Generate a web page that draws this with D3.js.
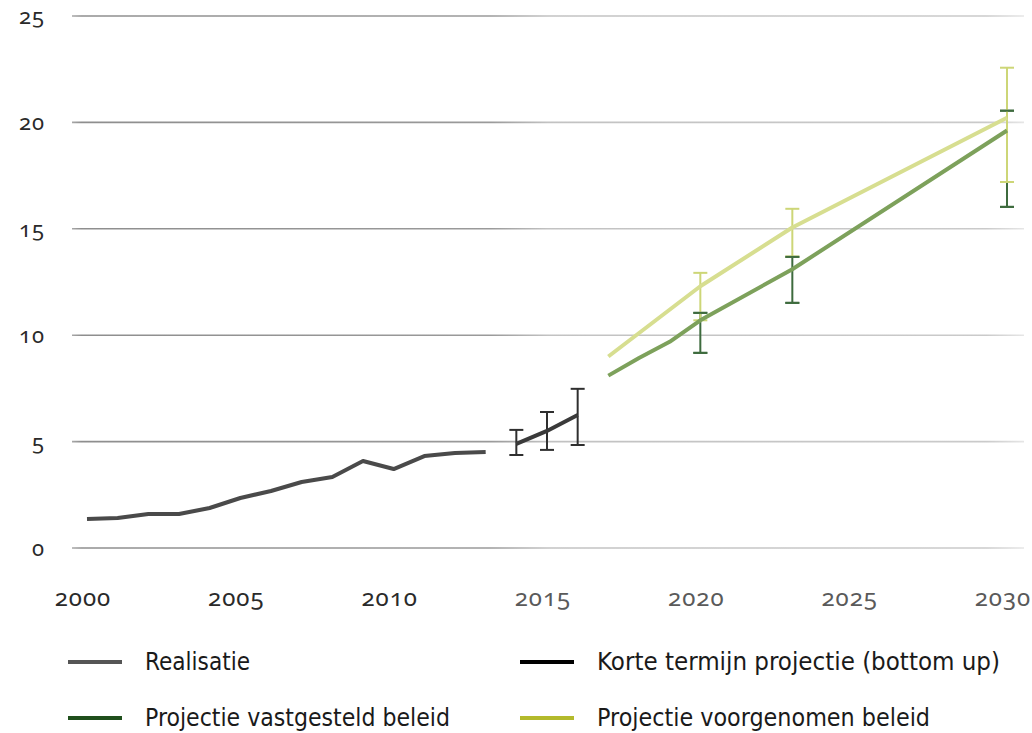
<!DOCTYPE html>
<html>
<head>
<meta charset="utf-8">
<script src="https://cdn.jsdelivr.net/npm/d3@7"></script>
<style>
  html, body { margin: 0; padding: 0; background: #fff; }
  svg { display: block; }
  .tick-y, .tick-x { font-family: "Noto Sans", "Open Sans", sans-serif; font-variant-numeric: oldstyle-nums; font-feature-settings: "onum" 1; }
  .legend text { font-family: "Liberation Sans Narrow", "DejaVu Sans Condensed", sans-serif; }
</style>
</head>
<body>
<svg id="chart" width="1032" height="733"></svg>
<script>
// ---- data ----
const yTicks = [0, 5, 10, 15, 20, 25];
const xTickYears = [2000, 2005, 2010, 2015, 2020, 2025, 2030];

const realisatieYears  = [2000, 2001, 2002, 2003, 2004, 2005, 2006, 2007, 2008, 2009, 2010, 2011, 2012, 2013];
const realisatieValues = [1.36, 1.41, 1.60, 1.60, 1.88, 2.35, 2.68, 3.10, 3.34, 4.09, 3.71, 4.32, 4.46, 4.51];

const korteYears  = [2014, 2015, 2016];
const korteValues = [4.89, 5.50, 6.25];
const korteLow    = [4.37, 4.61, 4.84];
const korteHigh   = [5.55, 6.39, 7.48];

const vastYears  = [2017, 2018, 2019, 2020, 2023, 2030];
const vastValues = [8.10, 8.93, 9.69, 10.70, 13.10, 19.62];
const vastErrYears = [2020, 2023, 2030];
const vastLow    = [9.17, 11.52, 16.03];
const vastHigh   = [11.05, 13.68, 20.55];

const voorYears  = [2017, 2020, 2023, 2030];
const voorValues = [9.00, 12.30, 15.06, 20.22];
const voorErrYears = [2020, 2023, 2030];
const voorLow    = [10.70, 13.70, 17.20];
const voorHigh   = [12.93, 15.94, 22.57];

const legendLabels = ["Realisatie", "Korte termijn projectie (bottom up)", "Projectie vastgesteld beleid", "Projectie voorgenomen beleid"];

// ---- drawing ----
const svg = d3.select("#chart");
const x = d3.scaleLinear().domain([2000, 2030]).range([87, 1007]);
const y = d3.scaleLinear().domain([0, 25]).range([548, 16]);

const defs = svg.append("defs");
const grad = defs.append("linearGradient").attr("id", "gridGrad")
  .attr("gradientUnits", "userSpaceOnUse").attr("x1", 72).attr("x2", 1024).attr("y1", 0).attr("y2", 0);
[[0, "#a8a8a8"], [0.01, "#8e8e8e"], [0.44, "#9a9a9a"], [0.5, "#c2c2c2"], [0.96, "#cacaca"], [1, "#e6e6e6"]]
  .forEach(([o, c]) => grad.append("stop").attr("offset", o).attr("stop-color", c));

// gridlines
svg.append("g").selectAll("line").data(yTicks).join("line")
  .attr("x1", 72).attr("x2", 1024)
  .attr("y1", d => y(d)).attr("y2", d => y(d))
  .attr("stroke", "url(#gridGrad)").attr("stroke-width", 1.6);

// y axis labels
svg.append("g").selectAll("text").data(yTicks).join("text")
  .attr("class", "tick-y")
  .attr("x", 45).attr("y", d => y(d) + 8)
  .attr("text-anchor", "end")
  .attr("font-size", 22).attr("letter-spacing", 1).attr("fill", "#2a2a2a")
  .text(d => d);

// x axis labels
svg.append("g").selectAll("text").data(xTickYears).join("text")
  .attr("class", "tick-x")
  .attr("x", d => x(d) - 4).attr("y", 606)
  .attr("text-anchor", "middle")
  .attr("font-size", 24).attr("letter-spacing", 1)
  .attr("fill", d => d <= 2010 ? "#2a2a2a" : "#5a5a5a")
  .text(d => d);

const line = d3.line().x(d => x(d[0])).y(d => y(d[1]));
function errBars(g, years, lo, hi, color, w) {
  const data = years.map((yr, i) => ({yr, lo: lo[i], hi: hi[i]}));
  g.selectAll(null).data(data).join("line")
    .attr("x1", d => x(d.yr)).attr("x2", d => x(d.yr))
    .attr("y1", d => y(d.hi)).attr("y2", d => y(d.lo))
    .attr("stroke", color).attr("stroke-width", w);
}
function errCaps(g, years, lo, hi, color, capW, w) {
  const data = [];
  years.forEach((yr, i) => { data.push({yr, v: lo[i]}); data.push({yr, v: hi[i]}); });
  g.selectAll(null).data(data).join("line")
    .attr("x1", d => x(d.yr) - capW / 2).attr("x2", d => x(d.yr) + capW / 2)
    .attr("y1", d => y(d.v)).attr("y2", d => y(d.v))
    .attr("stroke", color).attr("stroke-width", w);
}

// realisatie
svg.append("path").datum(realisatieYears.map((yr, i) => [yr, realisatieValues[i]]))
  .attr("d", line).attr("fill", "none").attr("stroke", "#4a4a4a").attr("stroke-width", 4)
  .attr("stroke-linejoin", "round");

// korte termijn
const kg = svg.append("g");
errBars(kg, korteYears, korteLow, korteHigh, "#2f2f2f", 2);
errCaps(kg, korteYears, korteLow, korteHigh, "#2f2f2f", 14, 2);
svg.append("path").datum(korteYears.map((yr, i) => [yr, korteValues[i]]))
  .attr("d", line).attr("fill", "none").attr("stroke", "#3a3a3a").attr("stroke-width", 4);

// projection error bars
const eg = svg.append("g");
errBars(eg, vastErrYears, vastLow, vastHigh, "#3e6b3e", 2);
errCaps(eg, vastErrYears, vastLow, vastHigh, "#3e6b3e", 14, 2);
errBars(eg, voorErrYears, voorLow, voorHigh, "#cdd677", 2);
errCaps(eg, voorErrYears, voorLow, voorHigh, "#cdd677", 14, 2);
errCaps(eg, vastErrYears, vastLow, vastHigh, "#3e6b3e", 14, 2);

// projection lines
svg.append("path").datum(vastYears.map((yr, i) => [yr, vastValues[i]]))
  .attr("d", line).attr("fill", "none").attr("stroke", "#7da15b").attr("stroke-width", 4)
  .attr("stroke-linejoin", "round");
svg.append("path").datum(voorYears.map((yr, i) => [yr, voorValues[i]]))
  .attr("d", line).attr("fill", "none").attr("stroke", "#d7de90").attr("stroke-width", 4)
  .attr("stroke-linejoin", "round");

// legend
const legendColors = ["#555555", "#000000", "#1f4f1c", "#b3ba2c"];
const legendPos = [[68, 662], [520, 662], [68, 718], [520, 718]];
const legendLen = [105, 403, 305, 333];
const lg = svg.append("g").attr("class", "legend");
legendLabels.forEach((lab, i) => {
  const [lx, ly] = legendPos[i];
  lg.append("line").attr("x1", lx).attr("x2", lx + 54).attr("y1", ly).attr("y2", ly)
    .attr("stroke", legendColors[i]).attr("stroke-width", 4);
  lg.append("text").attr("x", lx + 77).attr("y", ly + 8)
    .attr("font-size", 24).attr("fill", "#1a1a1a")
    .attr("textLength", legendLen[i]).attr("lengthAdjust", "spacingAndGlyphs")
    .text(lab);
});
</script>
</body>
</html>
